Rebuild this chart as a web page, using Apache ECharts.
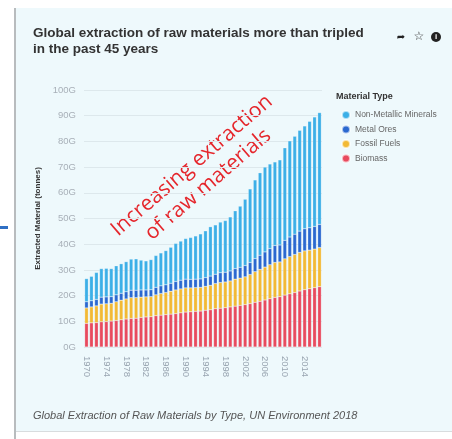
<!DOCTYPE html>
<html>
<head>
<meta charset="utf-8">
<script src="https://cdn.jsdelivr.net/npm/echarts@6/dist/echarts.min.js"></script>
<style>
html,body{margin:0;padding:0;background:#ffffff;}
#chart{width:452px;height:439px;}
</style>
</head>
<body>
<div id="chart"></div>
<script>
var years = [];
for (var y = 1970; y <= 2017; y++) years.push(String(y));

var biomass = [9.2,9.4,9.5,9.8,9.9,10.1,10.3,10.6,10.9,11.1,11.2,11.5,11.7,11.8,12.2,12.4,12.6,12.8,13.0,13.3,13.6,13.7,13.9,14.0,14.3,14.5,14.9,15.1,15.3,15.6,15.9,16.2,16.5,16.9,17.4,17.8,18.3,18.8,19.3,19.6,20.2,20.7,21.2,21.8,22.3,22.7,23.1,23.5];
var fossilFuels = [6.0,6.2,6.5,6.9,6.9,6.9,7.3,7.6,7.8,8.1,8.0,7.9,7.8,7.8,8.1,8.4,8.6,8.9,9.2,9.3,9.4,9.3,9.2,9.2,9.3,9.5,9.8,10.0,10.0,10.1,10.5,10.6,10.8,11.3,11.9,12.4,12.8,13.2,13.6,13.5,14.1,14.5,14.8,15.0,15.1,15.0,15.0,15.2];
var metalOres = [2.4,2.4,2.5,2.7,2.7,2.6,2.7,2.7,2.8,2.9,2.9,2.8,2.7,2.7,2.9,3.0,3.0,3.1,3.3,3.4,3.4,3.3,3.3,3.3,3.4,3.6,3.6,3.8,3.8,3.9,4.1,4.2,4.4,4.7,5.1,5.5,5.9,6.3,6.6,6.6,7.2,7.6,7.9,8.3,8.6,8.7,8.8,9.0];
var nonMetallic = [9.0,9.5,10.5,11.1,11.1,10.9,11.3,11.5,11.7,12.1,12.2,11.6,11.3,11.7,12.4,12.8,13.3,14.0,14.8,15.2,15.8,16.3,16.8,17.5,18.2,19.2,19.2,19.7,20.1,21.0,22.5,23.8,25.8,28.6,30.6,32.1,33.0,32.9,32.5,33.1,36.0,37.4,38.1,39.2,40.0,41.4,42.6,43.5];

var legendOrder = ['Non-Metallic Minerals','Metal Ores','Fossil Fuels','Biomass'];
var colors = {
  'Biomass': '#e84a5e',
  'Fossil Fuels': '#f2b934',
  'Metal Ores': '#2a68d0',
  'Non-Metallic Minerals': '#3cafe7'
};

var chart = echarts.init(document.getElementById('chart'), null, {renderer:'canvas'});

function mk(name, data) {
  return {
    name: name, type: 'bar', stack: 'total', data: data,
    barCategoryGap: '28%',
    itemStyle: { color: colors[name], borderColor: 'rgba(255,255,255,0.6)', borderWidth: 0.4 },
    emphasis: { disabled: true }
  };
}

var FONT = '"Liberation Sans", Arial, sans-serif';

chart.setOption({
  animation: false,
  backgroundColor: '#ffffff',
  textStyle: { fontFamily: FONT },
  grid: { left: 84, right: 130, top: 90, bottom: 92, containLabel: false },
  legend: {
    data: legendOrder,
    orient: 'vertical',
    left: 336, top: 105,
    icon: 'circle', itemWidth: 8, itemHeight: 8, itemGap: 4.5,
    textStyle: { fontSize: 8.5, color: '#666', fontFamily: FONT, padding: [0,0,0,0] },
    selectedMode: false
  },
  xAxis: {
    type: 'category', data: years,
    axisLine: { show: false }, axisTick: { show: false },
    axisLabel: { interval: 3, rotate: -90, fontSize: 9.5, color: '#98a4b0', margin: 9, fontFamily: FONT }
  },
  yAxis: {
    type: 'value', min: 0, max: 100, interval: 10,
    name: 'Extracted Material (tonnes)', nameLocation: 'middle', nameRotate: 90, nameGap: 42,
    nameTextStyle: { fontSize: 8, fontWeight: 'bold', color: '#333', fontFamily: FONT },
    axisLabel: { formatter: '{value}G', fontSize: 9.5, color: '#a8b0b8', margin: 8, fontFamily: FONT },
    splitLine: { lineStyle: { color: '#dde8ec', width: 1 } },
    axisLine: { show: false }, axisTick: { show: false }
  },
  series: [
    mk('Biomass', biomass),
    mk('Fossil Fuels', fossilFuels),
    mk('Metal Ores', metalOres),
    mk('Non-Metallic Minerals', nonMetallic)
  ],
  graphic: [
    { type: 'rect', z: -10, shape: { x: 16, y: 8, width: 436, height: 424 }, style: { fill: '#eef9fc' }, silent: true },
    { type: 'rect', z: -9, shape: { x: 14, y: 8, width: 2, height: 431 }, style: { fill: '#b8bcbe' }, silent: true },
    { type: 'rect', z: -9, shape: { x: 16, y: 431, width: 436, height: 1 }, style: { fill: '#d8dcde' }, silent: true },
    { type: 'rect', z: -9, shape: { x: 0, y: 226, width: 8, height: 3 }, style: { fill: '#2f6fc4' }, silent: true },
    { type: 'text', left: 33, top: 25, style: { text: 'Global extraction of raw materials more than tripled\nin the past 45 years', font: 'bold 13.5px ' + FONT, fill: '#333', lineHeight: 16 } },
    { type: 'text', x: 401, y: 37, style: { text: '➦', font: '10px "DejaVu Sans"', fill: '#222', align: 'center', verticalAlign: 'middle' } },
    { type: 'text', x: 419, y: 37, style: { text: '☆', font: '12px "DejaVu Sans"', fill: '#333', align: 'center', verticalAlign: 'middle' } },
    { type: 'circle', shape: { cx: 436, cy: 37, r: 5 }, style: { fill: '#222' } },
    { type: 'text', x: 436, y: 37, style: { text: 'i', font: 'bold 8px ' + FONT, fill: '#fff', align: 'center', verticalAlign: 'middle' } },
    { type: 'text', left: 336, top: 92, style: { text: 'Material Type', font: 'bold 9px ' + FONT, fill: '#333' } },
    { type: 'text', x: 200, y: 175, rotation: 0.71, style: { text: 'Increasing extraction\nof raw materials', font: '21px "Open Sans", sans-serif', fill: '#e5262c', align: 'center', verticalAlign: 'middle', lineHeight: 25 } },
    { type: 'text', left: 33, top: 410, style: { text: 'Global Extraction of Raw Materials by Type, UN Environment 2018', font: 'italic 11px ' + FONT, fill: '#555' } }
  ]
});
</script>
</body>
</html>
